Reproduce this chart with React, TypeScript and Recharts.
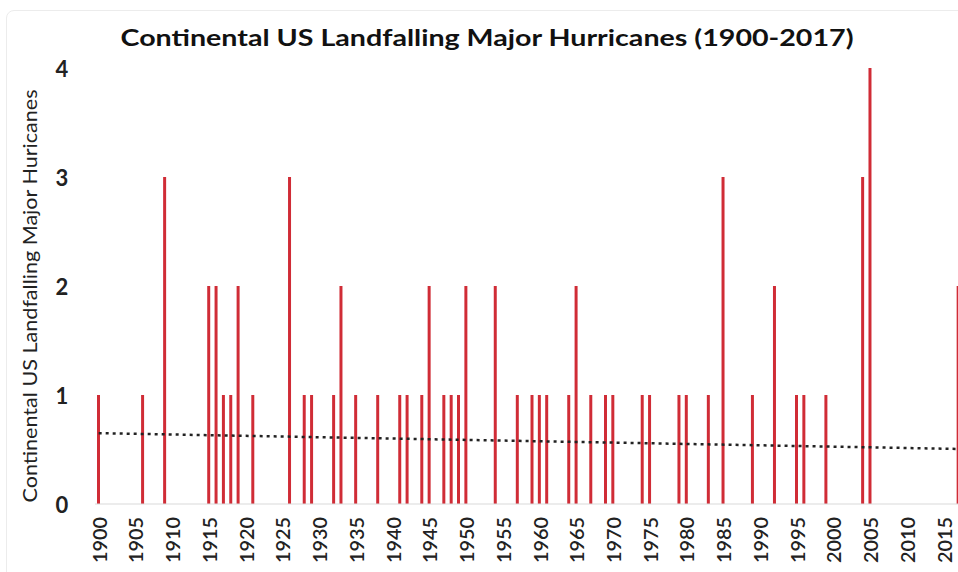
import React from "react";
import { ComposedChart, Bar, XAxis, YAxis, ReferenceLine } from "recharts";

const TITLE = "Continental US Landfalling Major Hurricanes (1900-2017)";
const Y_LABEL = "Continental US Landfalling Major Huricanes";

const FIRST_YEAR = 1900;
const LAST_YEAR = 2017;

const hurricaneYears = [
  1900, 1906, 1909, 1915, 1916, 1917, 1918, 1919, 1921, 1926, 1928, 1929, 1932, 1933,
  1935, 1938, 1941, 1942, 1944, 1945, 1947, 1948, 1949, 1950, 1954, 1957, 1959, 1960,
  1961, 1964, 1965, 1967, 1969, 1970, 1974, 1975, 1979, 1980, 1983, 1985, 1989, 1992,
  1995, 1996, 1999, 2004, 2005, 2017,
];
const hurricaneCounts = [
  1, 1, 3, 2, 2, 1, 1, 2, 1, 3, 1, 1, 1, 2,
  1, 1, 1, 1, 1, 2, 1, 1, 1, 2, 2, 1, 1, 1,
  1, 1, 2, 1, 1, 1, 1, 1, 1, 1, 1, 3, 1, 2,
  1, 1, 1, 3, 4, 2,
];

const yTicks = [0, 1, 2, 3, 4];
const trendStart = 0.65;
const trendEnd = 0.505;

const data: { year: number; count: number }[] = [];
for (let y = FIRST_YEAR; y <= LAST_YEAR; y++) {
  const i = hurricaneYears.indexOf(y);
  data.push({ year: y, count: i >= 0 ? hurricaneCounts[i] : 0 });
}

const FONT = "Lato, 'Open Sans', sans-serif";

const XTick = (props: any) => {
  const { x, y, payload } = props;
  return (
    <text
      transform={`translate(${x},${y + 13}) rotate(-90)`}
      textAnchor="end"
      dominantBaseline="central"
      fontFamily={FONT}
      fontSize={20}
      fontWeight={600}
      fill="#222"
      textLength={46}
      lengthAdjust="spacingAndGlyphs"
    >
      {payload.value}
    </text>
  );
};

const YTick = (props: any) => {
  const { y, payload } = props;
  return (
    <text
      x={62}
      y={y}
      textAnchor="middle"
      dominantBaseline="central"
      fontFamily={FONT}
      fontSize={22}
      fontWeight={700}
      fill="#222"
    >
      {payload.value}
    </text>
  );
};

export default function App() {
  return (
    <div
      style={{
        position: "relative",
        width: 958,
        height: 572,
        overflow: "hidden",
        background: "#fff",
      }}
    >
      <style>{`html, body { margin: 0; padding: 0; overflow: hidden; }`}</style>
      <div
        style={{
          position: "absolute",
          left: 6,
          top: 10,
          width: 980,
          height: 600,
          border: "1px solid #ececec",
          borderRadius: 8,
        }}
      />
      <div style={{ position: "absolute", left: 0, top: 0, width: 962, height: 572 }}>
        <ComposedChart
          width={962}
          height={572}
          data={data}
          margin={{ top: 68, right: 0, left: 0, bottom: 0 }}
        >
          <XAxis
            dataKey="year"
            interval={4}
            height={68}
            tickLine={false}
            tickSize={0}
            tickMargin={0}
            axisLine={{ stroke: "#d9d9d9", strokeWidth: 1 }}
            tick={<XTick />}
          />
          <YAxis
            width={95}
            domain={[0, 4]}
            ticks={yTicks}
            axisLine={false}
            tickLine={false}
            tick={<YTick />}
          />
          <Bar
            dataKey="count"
            fill="#d02c36"
            barSize={3}
            isAnimationActive={false}
          />
          <ReferenceLine
            segment={[
              { x: FIRST_YEAR, y: trendStart },
              { x: LAST_YEAR, y: trendEnd },
            ]}
            stroke="#222"
            strokeWidth={2.5}
            strokeDasharray="3 4"
          />
        </ComposedChart>
      </div>
      <svg
        width={958}
        height={572}
        style={{ position: "absolute", left: 0, top: 0, pointerEvents: "none" }}
      >
        <text
          x={487}
          y={37}
          textAnchor="middle"
          dominantBaseline="central"
          fontFamily={FONT}
          fontSize={22}
          fontWeight={700}
          fill="#111"
          textLength={733}
          lengthAdjust="spacingAndGlyphs"
        >
          {TITLE}
        </text>
        <text
          transform="translate(29,296) rotate(-90)"
          textAnchor="middle"
          dominantBaseline="central"
          fontFamily={FONT}
          fontSize={20}
          fill="#222"
          textLength={413}
          lengthAdjust="spacingAndGlyphs"
        >
          {Y_LABEL}
        </text>
      </svg>
    </div>
  );
}
